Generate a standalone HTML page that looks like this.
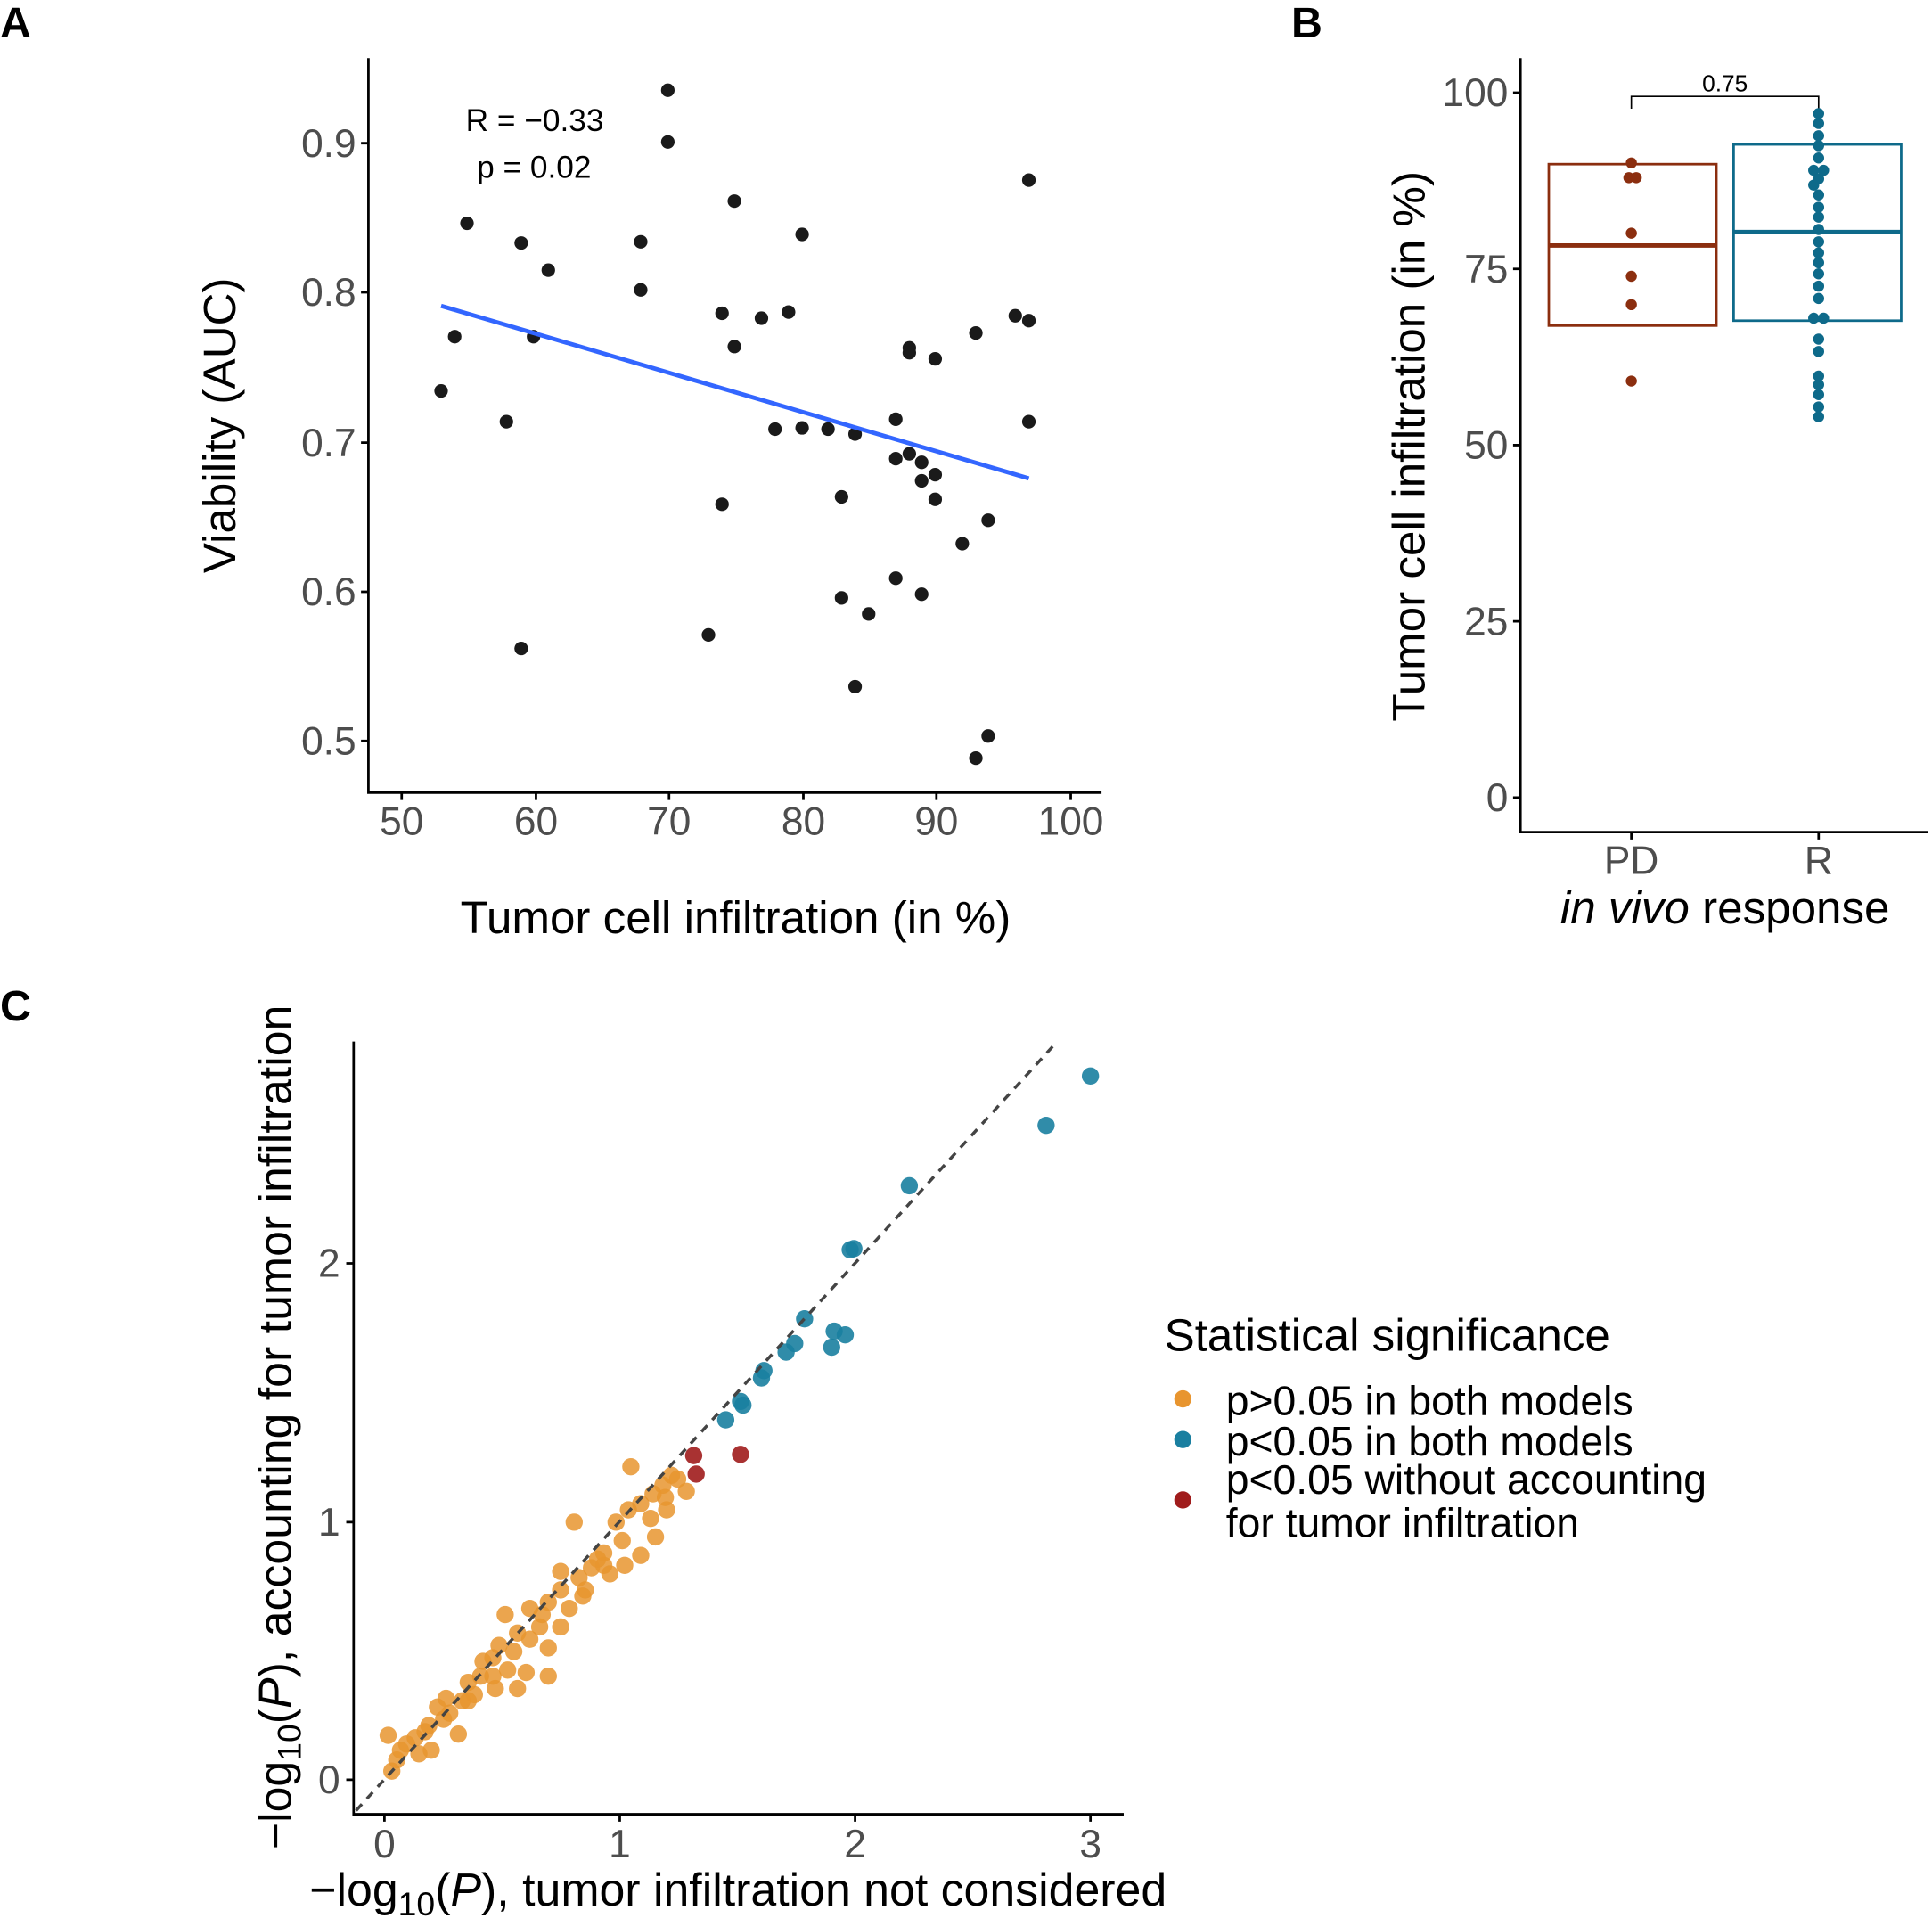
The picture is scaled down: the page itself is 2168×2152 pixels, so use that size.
<!DOCTYPE html>
<html><head><style>html,body{margin:0;padding:0;background:#fff}svg{display:block}</style></head>
<body>
<svg width="2168" height="2152" viewBox="0 0 1568 1556" xmlns="http://www.w3.org/2000/svg" font-family="Liberation Sans, sans-serif">
<rect width="1568" height="1556" fill="#fff"/>
<g font-weight="bold" font-size="35" fill="#000">
<text x="0" y="30">A</text><text x="1048" y="30">B</text><text x="0" y="828">C</text></g>

<!-- Panel A -->
<g stroke="#000" stroke-width="2" fill="none">
<path d="M299 47V643H894"/>
<path d="M293 116h6M293 237h6M293 359h6M293 480h6M293 601h6"/>
<path d="M326 643v6M435 643v6M543 643v6M652 643v6M760 643v6M869 643v6"/>
</g>
<g font-size="32" fill="#4d4d4d" text-anchor="end">
<text x="289" y="127">0.9</text><text x="289" y="248">0.8</text><text x="289" y="370">0.7</text><text x="289" y="491">0.6</text><text x="289" y="612">0.5</text></g>
<g font-size="32" fill="#4d4d4d" text-anchor="middle">
<text x="326" y="677">50</text><text x="435" y="677">60</text><text x="543" y="677">70</text><text x="652" y="677">80</text><text x="760" y="677">90</text><text x="869" y="677">100</text></g>
<text x="597" y="757" font-size="37" text-anchor="middle">Tumor cell infiltration (in %)</text>
<text transform="translate(191,345) rotate(-90)" font-size="37" text-anchor="middle">Viability (AUC)</text>
<text x="378" y="106" font-size="25.5">R = −0.33</text>
<text x="387" y="144" font-size="25.5">p = 0.02</text>
<g fill="#1a1a1a">
<circle cx="358" cy="317" r="5.5"/><circle cx="369" cy="273" r="5.5"/><circle cx="379" cy="181" r="5.5"/><circle cx="411" cy="342" r="5.5"/><circle cx="423" cy="197" r="5.5"/><circle cx="423" cy="526" r="5.5"/><circle cx="433" cy="273" r="5.5"/><circle cx="445" cy="219" r="5.5"/><circle cx="520" cy="196" r="5.5"/><circle cx="520" cy="235" r="5.5"/><circle cx="542" cy="73" r="5.5"/><circle cx="542" cy="115" r="5.5"/><circle cx="575" cy="515" r="5.5"/><circle cx="586" cy="254" r="5.5"/><circle cx="586" cy="409" r="5.5"/><circle cx="596" cy="163" r="5.5"/><circle cx="596" cy="281" r="5.5"/><circle cx="618" cy="258" r="5.5"/><circle cx="629" cy="348" r="5.5"/><circle cx="640" cy="253" r="5.5"/><circle cx="651" cy="190" r="5.5"/><circle cx="651" cy="347" r="5.5"/><circle cx="672" cy="348" r="5.5"/><circle cx="683" cy="403" r="5.5"/><circle cx="683" cy="485" r="5.5"/><circle cx="694" cy="352" r="5.5"/><circle cx="694" cy="557" r="5.5"/><circle cx="705" cy="498" r="5.5"/><circle cx="727" cy="340" r="5.5"/><circle cx="727" cy="372" r="5.5"/><circle cx="727" cy="469" r="5.5"/><circle cx="738" cy="282" r="5.5"/><circle cx="738" cy="286" r="5.5"/><circle cx="738" cy="368" r="5.5"/><circle cx="748" cy="375" r="5.5"/><circle cx="748" cy="390" r="5.5"/><circle cx="748" cy="482" r="5.5"/><circle cx="759" cy="291" r="5.5"/><circle cx="759" cy="385" r="5.5"/><circle cx="759" cy="405" r="5.5"/><circle cx="781" cy="441" r="5.5"/><circle cx="792" cy="270" r="5.5"/><circle cx="792" cy="615" r="5.5"/><circle cx="802" cy="422" r="5.5"/><circle cx="802" cy="597" r="5.5"/><circle cx="824" cy="256" r="5.5"/><circle cx="835" cy="146" r="5.5"/><circle cx="835" cy="260" r="5.5"/><circle cx="835" cy="342" r="5.5"/>
</g>
<line x1="358" y1="248" x2="835" y2="388" stroke="#3366ff" stroke-width="3.5"/>

<!-- Panel B -->
<g stroke="#000" stroke-width="2" fill="none">
<path d="M1234 47V675H1565"/>
<path d="M1228 75h6M1228 218h6M1228 361h6M1228 504h6M1228 647h6"/>
<path d="M1324 675v6M1476 675v6"/>
<path d="M1324 88V78H1476V88" stroke-width="1.2"/>
</g>
<text x="1400" y="74" font-size="19" text-anchor="middle">0.75</text>
<g font-size="32" fill="#4d4d4d" text-anchor="end">
<text x="1224" y="86">100</text><text x="1224" y="229">75</text><text x="1224" y="372">50</text><text x="1224" y="515">25</text><text x="1224" y="658">0</text></g>
<g font-size="32" fill="#4d4d4d" text-anchor="middle"><text x="1324" y="709">PD</text><text x="1476" y="709">R</text></g>
<text x="1400" y="749" font-size="37" text-anchor="middle"><tspan font-style="italic">in vivo</tspan> response</text>
<text transform="translate(1156,362) rotate(-90)" font-size="37" text-anchor="middle">Tumor cell infiltration (in %)</text>
<rect x="1257" y="133" width="136" height="131" fill="none" stroke="#8b2e0f" stroke-width="2"/>
<line x1="1257" y1="199" x2="1393" y2="199" stroke="#8b2e0f" stroke-width="3.5"/>
<rect x="1407" y="117" width="136" height="143" fill="none" stroke="#0e6a8a" stroke-width="2"/>
<line x1="1407" y1="188" x2="1543" y2="188" stroke="#0e6a8a" stroke-width="3.5"/>
<g fill="#8b2e0f"><circle cx="1324" cy="132" r="4.5"/><circle cx="1322" cy="144" r="4.5"/><circle cx="1328" cy="144" r="4.5"/><circle cx="1324" cy="189" r="4.5"/><circle cx="1324" cy="224" r="4.5"/><circle cx="1324" cy="247" r="4.5"/><circle cx="1324" cy="309" r="4.5"/></g>
<g fill="#0e6a8a">
<circle cx="1476" cy="92" r="4.5"/><circle cx="1476" cy="100" r="4.5"/><circle cx="1476" cy="110" r="4.5"/><circle cx="1476" cy="118" r="4.5"/><circle cx="1476" cy="128" r="4.5"/><circle cx="1472" cy="138" r="4.5"/><circle cx="1480" cy="138" r="4.5"/><circle cx="1476" cy="145" r="4.5"/><circle cx="1472" cy="150" r="4.5"/><circle cx="1476" cy="158" r="4.5"/><circle cx="1476" cy="168" r="4.5"/><circle cx="1476" cy="176" r="4.5"/><circle cx="1476" cy="186" r="4.5"/><circle cx="1476" cy="196" r="4.5"/><circle cx="1476" cy="205" r="4.5"/><circle cx="1476" cy="213" r="4.5"/><circle cx="1476" cy="222" r="4.5"/><circle cx="1476" cy="232" r="4.5"/><circle cx="1476" cy="242" r="4.5"/><circle cx="1472" cy="258" r="4.5"/><circle cx="1480" cy="258" r="4.5"/><circle cx="1476" cy="275" r="4.5"/><circle cx="1476" cy="285" r="4.5"/><circle cx="1476" cy="305" r="4.5"/><circle cx="1476" cy="312" r="4.5"/><circle cx="1476" cy="320" r="4.5"/><circle cx="1476" cy="330" r="4.5"/><circle cx="1476" cy="338" r="4.5"/>
</g>

<!-- Panel C -->
<g stroke="#000" stroke-width="2" fill="none">
<path d="M287 845V1472H912"/>
<path d="M281 1025h6M281 1235h6M281 1444h6"/>
<path d="M312 1472v6M503 1472v6M694 1472v6M885 1472v6"/>
</g>
<g font-size="32" fill="#4d4d4d" text-anchor="end"><text x="276" y="1036">2</text><text x="276" y="1246">1</text><text x="276" y="1455">0</text></g>
<g font-size="32" fill="#4d4d4d" text-anchor="middle"><text x="312" y="1507">0</text><text x="503" y="1507">1</text><text x="694" y="1507">2</text><text x="885" y="1507">3</text></g>
<text x="599" y="1546" font-size="37.5" text-anchor="middle">−log<tspan font-size="27" dy="8">10</tspan><tspan dy="-8">(</tspan><tspan font-style="italic">P</tspan>), tumor infiltration not considered</text>
<text transform="translate(236,1158) rotate(-90)" font-size="37.5" text-anchor="middle">−log<tspan font-size="27" dy="8">10</tspan><tspan dy="-8">(</tspan><tspan font-style="italic">P</tspan>), accounting for tumor infiltration</text>
<g fill="#e8952f" fill-opacity="0.85">
<circle cx="466" cy="1235" r="7"/><circle cx="512" cy="1190" r="7"/><circle cx="545" cy="1197" r="7"/><circle cx="557" cy="1210" r="7"/><circle cx="541" cy="1225" r="7"/><circle cx="510" cy="1225" r="7"/><circle cx="500" cy="1235" r="7"/><circle cx="505" cy="1250" r="7"/><circle cx="507" cy="1270" r="7"/><circle cx="495" cy="1277" r="7"/><circle cx="480" cy="1272" r="7"/><circle cx="470" cy="1280" r="7"/><circle cx="455" cy="1290" r="7"/><circle cx="445" cy="1300" r="7"/><circle cx="430" cy="1305" r="7"/><circle cx="410" cy="1310" r="7"/><circle cx="420" cy="1325" r="7"/><circle cx="400" cy="1345" r="7"/><circle cx="390" cy="1360" r="7"/><circle cx="380" cy="1365" r="7"/><circle cx="375" cy="1380" r="7"/><circle cx="360" cy="1395" r="7"/><circle cx="345" cy="1405" r="7"/><circle cx="330" cy="1415" r="7"/><circle cx="315" cy="1408" r="7"/><circle cx="318" cy="1437" r="7"/><circle cx="322" cy="1428" r="7"/><circle cx="340" cy="1423" r="7"/><circle cx="350" cy="1420" r="7"/><circle cx="372" cy="1407" r="7"/><circle cx="355" cy="1385" r="7"/><circle cx="362" cy="1378" r="7"/><circle cx="385" cy="1375" r="7"/><circle cx="402" cy="1370" r="7"/><circle cx="412" cy="1355" r="7"/><circle cx="427" cy="1357" r="7"/><circle cx="445" cy="1337" r="7"/><circle cx="430" cy="1330" r="7"/><circle cx="440" cy="1310" r="7"/><circle cx="455" cy="1320" r="7"/><circle cx="462" cy="1305" r="7"/><circle cx="473" cy="1295" r="7"/><circle cx="490" cy="1270" r="7"/><circle cx="520" cy="1262" r="7"/><circle cx="532" cy="1247" r="7"/><circle cx="528" cy="1232" r="7"/><circle cx="538" cy="1205" r="7"/><circle cx="550" cy="1200" r="7"/><circle cx="540" cy="1215" r="7"/><circle cx="530" cy="1212" r="7"/><circle cx="520" cy="1220" r="7"/><circle cx="490" cy="1260" r="7"/><circle cx="445" cy="1360" r="7"/><circle cx="420" cy="1370" r="7"/><circle cx="400" cy="1360" r="7"/><circle cx="380" cy="1380" r="7"/><circle cx="365" cy="1390" r="7"/><circle cx="348" cy="1400" r="7"/><circle cx="337" cy="1410" r="7"/><circle cx="325" cy="1420" r="7"/><circle cx="455" cy="1275" r="7"/><circle cx="485" cy="1265" r="7"/><circle cx="475" cy="1290" r="7"/><circle cx="438" cy="1320" r="7"/><circle cx="417" cy="1340" r="7"/><circle cx="405" cy="1335" r="7"/><circle cx="392" cy="1348" r="7"/>
</g>
<g fill="#1a7fa0" fill-opacity="0.9">
<circle cx="885" cy="873" r="7"/><circle cx="849" cy="913" r="7"/><circle cx="738" cy="962" r="7"/><circle cx="690" cy="1014" r="7"/><circle cx="693" cy="1013" r="7"/><circle cx="653" cy="1070" r="7"/><circle cx="645" cy="1090" r="7"/><circle cx="677" cy="1080" r="7"/><circle cx="686" cy="1083" r="7"/><circle cx="675" cy="1093" r="7"/><circle cx="638" cy="1097" r="7"/><circle cx="620" cy="1112" r="7"/><circle cx="618" cy="1118" r="7"/><circle cx="601" cy="1137" r="7"/><circle cx="603" cy="1140" r="7"/><circle cx="589" cy="1152" r="7"/>
</g>
<g fill="#a01c1c" fill-opacity="0.9"><circle cx="563" cy="1181" r="7"/><circle cx="565" cy="1196" r="7"/><circle cx="601" cy="1180" r="7"/></g>
<line x1="289" y1="1469" x2="858" y2="845" stroke="#444" stroke-width="2.5" stroke-dasharray="7,6"/>

<!-- Legend -->
<text x="945" y="1096" font-size="37">Statistical significance</text>
<circle cx="960" cy="1135" r="7" fill="#e8952f"/><circle cx="960" cy="1168" r="7" fill="#1a7fa0"/><circle cx="960" cy="1217" r="7" fill="#a01c1c"/>
<g font-size="33.5"><text x="995" y="1148">p&gt;0.05 in both models</text><text x="995" y="1181">p&lt;0.05 in both models</text><text x="995" y="1212">p&lt;0.05 without accounting</text><text x="995" y="1247">for tumor infiltration</text></g>
</svg>
</body></html>
